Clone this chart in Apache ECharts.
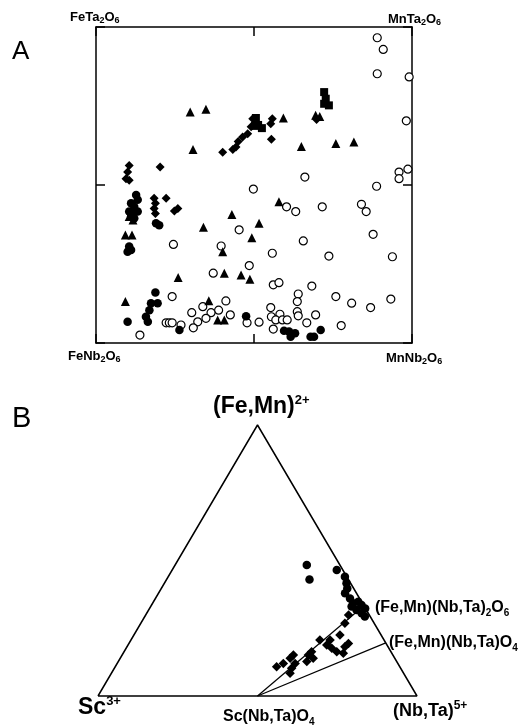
<!DOCTYPE html>
<html>
<head>
<meta charset="utf-8">
<script src="https://cdn.jsdelivr.net/npm/echarts@6/dist/echarts.min.js"></script>
<style>
html,body{margin:0;padding:0;background:#fff;}
#chart{width:530px;height:726px;}
</style>
</head>
<body>
<div id="chart"></div>
<script>
// ---------- Panel A data: [Mn/(Mn+Fe), Ta/(Ta+Nb)] ----------
const openCirclesA = [
 [0.890,0.966],[0.909,0.929],[0.890,0.852],[0.991,0.842],[0.982,0.703],[0.661,0.525],
 [0.959,0.541],[0.959,0.520],[0.987,0.550],[0.888,0.496],[0.498,0.487],[0.453,0.358],
 [0.245,0.312],[0.396,0.307],[0.371,0.221],[0.485,0.245],[0.241,0.147],[0.411,0.133],
 [0.338,0.115],[0.303,0.096],[0.388,0.104],[0.364,0.096],[0.348,0.078],[0.322,0.067],
 [0.308,0.048],[0.425,0.089],[0.222,0.064],[0.232,0.064],[0.241,0.064],[0.269,0.057],
 [0.139,0.025],[0.478,0.064],[0.603,0.431],[0.632,0.416],[0.716,0.431],[0.840,0.439],
 [0.855,0.416],[0.656,0.323],[0.877,0.344],[0.558,0.284],[0.737,0.275],[0.938,0.273],
 [0.561,0.184],[0.579,0.191],[0.683,0.180],[0.640,0.155],[0.637,0.131],[0.759,0.147],
 [0.809,0.126],[0.869,0.112],[0.933,0.139],[0.553,0.112],[0.582,0.091],[0.637,0.099],
 [0.640,0.086],[0.695,0.089],[0.555,0.083],[0.569,0.073],[0.590,0.073],[0.605,0.073],
 [0.516,0.066],[0.667,0.064],[0.776,0.055],[0.561,0.044]
];
const filledCirclesA = [
 [0.127,0.468],[0.132,0.453],[0.111,0.442],[0.121,0.431],[0.105,0.416],[0.116,0.410],
 [0.132,0.416],[0.121,0.395],[0.111,0.400],[0.105,0.305],[0.111,0.294],[0.100,0.289],
 [0.190,0.379],[0.200,0.373],[0.188,0.160],[0.174,0.126],[0.195,0.126],[0.169,0.104],
 [0.158,0.083],[0.164,0.067],[0.100,0.067],[0.264,0.041],[0.475,0.085],[0.595,0.039],
 [0.611,0.036],[0.630,0.031],[0.616,0.020],[0.679,0.020],[0.690,0.020],[0.711,0.041]
];
const trianglesA = [
 [0.298,0.731],[0.348,0.740],[0.307,0.612],[0.593,0.712],[0.650,0.622],[0.759,0.631],
 [0.816,0.636],[0.695,0.721],[0.708,0.717],[0.430,0.407],[0.340,0.366],[0.493,0.333],
 [0.401,0.289],[0.260,0.207],[0.406,0.221],[0.459,0.215],[0.487,0.202],[0.093,0.131],
 [0.357,0.134],[0.385,0.073],[0.406,0.073],[0.579,0.447],[0.516,0.379],[0.093,0.342],
 [0.114,0.342],[0.105,0.400],[0.117,0.389]
];
const diamondsA = [
 [0.401,0.604],[0.433,0.612],[0.443,0.620],[0.450,0.638],[0.464,0.652],[0.480,0.662],
 [0.491,0.684],[0.496,0.710],[0.203,0.557],[0.105,0.562],[0.100,0.541],[0.095,0.520],
 [0.105,0.515],[0.558,0.710],[0.553,0.694],[0.555,0.645],[0.698,0.707],[0.184,0.458],
 [0.188,0.442],[0.184,0.426],[0.188,0.410],[0.222,0.458],[0.259,0.426],[0.248,0.418]
];
const squaresA = [
 [0.722,0.794],[0.727,0.773],[0.722,0.757],[0.737,0.752],[0.506,0.712],[0.513,0.690],
 [0.525,0.680],[0.503,0.687]
];
const tickValuesA = [0, 0.5, 1];

// ---------- Panel B data: ternary [(Fe,Mn), Sc, (Nb,Ta)] ----------
const ternaryVertices = [[0,1,0],[0,0,1],[1,0,0],[0,1,0]];
const tieLine1 = [[0,0.5,0.5],[0.333,0,0.667]];   // Sc(Nb,Ta)O4 -> (Fe,Mn)(Nb,Ta)2O6
const tieLine2 = [[0,0.5,0.5],[0.196,0,0.804]];   // Sc(Nb,Ta)O4 -> (Fe,Mn)(Nb,Ta)O4
const circlesB = [
 [0.483,0.104,0.413],[0.430,0.122,0.448],[0.465,0.019,0.516],[0.440,0.006,0.554],
 [0.416,0.013,0.571],[0.397,0.020,0.583],[0.379,0.036,0.585],[0.360,0.030,0.610],
 [0.342,0.029,0.629],[0.348,0.010,0.642],[0.336,0.006,0.658],[0.323,0.001,0.676],
 [0.317,0.031,0.652],[0.305,0.021,0.674],[0.293,0.017,0.690],[0.330,0.040,0.630]
];
const diamondsB = [
 [0.299,0.065,0.636],[0.268,0.092,0.640],[0.225,0.129,0.646],[0.207,0.169,0.624],
 [0.176,0.179,0.645],[0.163,0.170,0.667],[0.182,0.135,0.683],[0.194,0.118,0.688],
 [0.158,0.152,0.690],[0.188,0.189,0.623],[0.163,0.249,0.588],[0.151,0.265,0.584],
 [0.139,0.256,0.605],[0.127,0.282,0.591],[0.151,0.312,0.537],[0.139,0.328,0.533],
 [0.120,0.322,0.558],[0.102,0.342,0.556],[0.084,0.356,0.560],[0.120,0.359,0.521],
 [0.108,0.386,0.506],[0.207,0.201,0.592]
];

// ternary -> cartesian (x along Sc -> (Nb,Ta) base, y toward (Fe,Mn) apex)
function tern(p){ return [p[2] + p[0]/2, p[0]]; }

const FONT = '"Liberation Sans", Arial, Helvetica, sans-serif';
function richStyles(base, sub, sup, weight){
  return {
    b:{fontSize:base, fontWeight:weight, fontFamily:FONT, lineHeight:base+4, verticalAlign:'middle', fill:'#000'},
    s:{fontSize:sub, fontWeight:weight, fontFamily:FONT, lineHeight:sub, verticalAlign:'bottom', fill:'#000'},
    p:{fontSize:sup, fontWeight:weight, fontFamily:FONT, lineHeight:sup, verticalAlign:'top', fill:'#000'}
  };
}
function label(x, y, text, base, sub, sup, weight){
  return {type:'text', x:x, y:y, silent:true, z:10,
    style:{text:text, rich:richStyles(base, sub, sup, weight||'bold'), align:'left', verticalAlign:'middle',
           font:(weight||'bold')+' '+base+'px '+FONT, fill:'#000'}};
}

const chart = echarts.init(document.getElementById('chart'), null, {renderer:'canvas'});

const axisLine = {show:true, onZero:false, lineStyle:{color:'#000', width:1.5}};
const tick = {show:true, inside:true, length:9, lineStyle:{color:'#000', width:1.5}};

function scatterA(data, symbol, size, open){
  return {type:'scatter', xAxisIndex:0, yAxisIndex:0, data:data, symbol:symbol, symbolSize:size,
    clip:false, silent:true,
    itemStyle: open ? {color:'#fff', borderColor:'#000', borderWidth:1.2, opacity:1} : {color:'#000', opacity:1}};
}
function scatterB(data, symbol, size){
  return {type:'scatter', xAxisIndex:2, yAxisIndex:2, data:data.map(tern), symbol:symbol, symbolSize:size,
    clip:false, silent:true, itemStyle:{color:'#000', opacity:1}};
}
function lineB(pts, w){
  return {type:'line', xAxisIndex:2, yAxisIndex:2, data:pts.map(tern), showSymbol:false, symbol:'none',
    silent:true, clip:false, lineStyle:{color:'#000', width:w}, z:1};
}

const option = {
  animation:false,
  backgroundColor:'#fff',
  grid:[
    {left:96, top:27, width:316, height:316},
    {left:98, top:425, width:319, height:271}
  ],
  xAxis:[
    {type:'value', gridIndex:0, min:0, max:1, interval:0.5, position:'bottom', axisLine:axisLine,
     axisTick:tick, axisLabel:{show:false}, splitLine:{show:false}},
    {type:'value', gridIndex:0, min:0, max:1, interval:0.5, position:'top', axisLine:axisLine,
     axisTick:tick, axisLabel:{show:false}, splitLine:{show:false}},
    {type:'value', gridIndex:1, min:0, max:1, show:false}
  ],
  yAxis:[
    {type:'value', gridIndex:0, min:0, max:1, interval:0.5, position:'left', axisLine:axisLine,
     axisTick:tick, axisLabel:{show:false}, splitLine:{show:false}},
    {type:'value', gridIndex:0, min:0, max:1, interval:0.5, position:'right', axisLine:axisLine,
     axisTick:tick, axisLabel:{show:false}, splitLine:{show:false}},
    {type:'value', gridIndex:1, min:0, max:1, show:false}
  ],
  series:[
    scatterA(openCirclesA, 'circle', 8, true),
    scatterA(filledCirclesA, 'circle', 8.5, false),
    scatterA(trianglesA, 'triangle', 9, false),
    scatterA(diamondsA, 'diamond', 9, false),
    scatterA(squaresA, 'rect', 8, false),
    lineB(ternaryVertices, 1.5),
    lineB(tieLine1, 1.2),
    lineB(tieLine2, 1.2),
    scatterB(circlesB, 'circle', 8.5),
    scatterB(diamondsB, 'diamond', 9.5)
  ],
  graphic:[
    label(70, 17, '{b|FeTa}{s|2}{b|O}{s|6}', 13, 9, 9),
    label(388, 19, '{b|MnTa}{s|2}{b|O}{s|6}', 13, 9, 9),
    label(68, 356, '{b|FeNb}{s|2}{b|O}{s|6}', 13, 9, 9),
    label(386, 358, '{b|MnNb}{s|2}{b|O}{s|6}', 13, 9, 9),
    label(12, 52, '{b|A}', 26, 10, 10, 'normal'),
    label(12, 419, '{b|B}', 29, 10, 10, 'normal'),
    label(213, 407, '{b|(Fe,Mn)}{p|2+}', 23, 12, 13),
    label(78, 708, '{b|Sc}{p|3+}', 23, 12, 13),
    label(223, 717, '{b|Sc(Nb,Ta)O}{s|4}', 16, 10, 10),
    label(393, 711, '{b|(Nb,Ta)}{p|5+}', 18, 11, 12),
    label(375, 608, '{b|(Fe,Mn)(Nb,Ta)}{s|2}{b|O}{s|6}', 16, 10, 10),
    label(389, 643, '{b|(Fe,Mn)(Nb,Ta)O}{s|4}', 16, 10, 10)
  ]
};
chart.setOption(option);
</script>
</body>
</html>
